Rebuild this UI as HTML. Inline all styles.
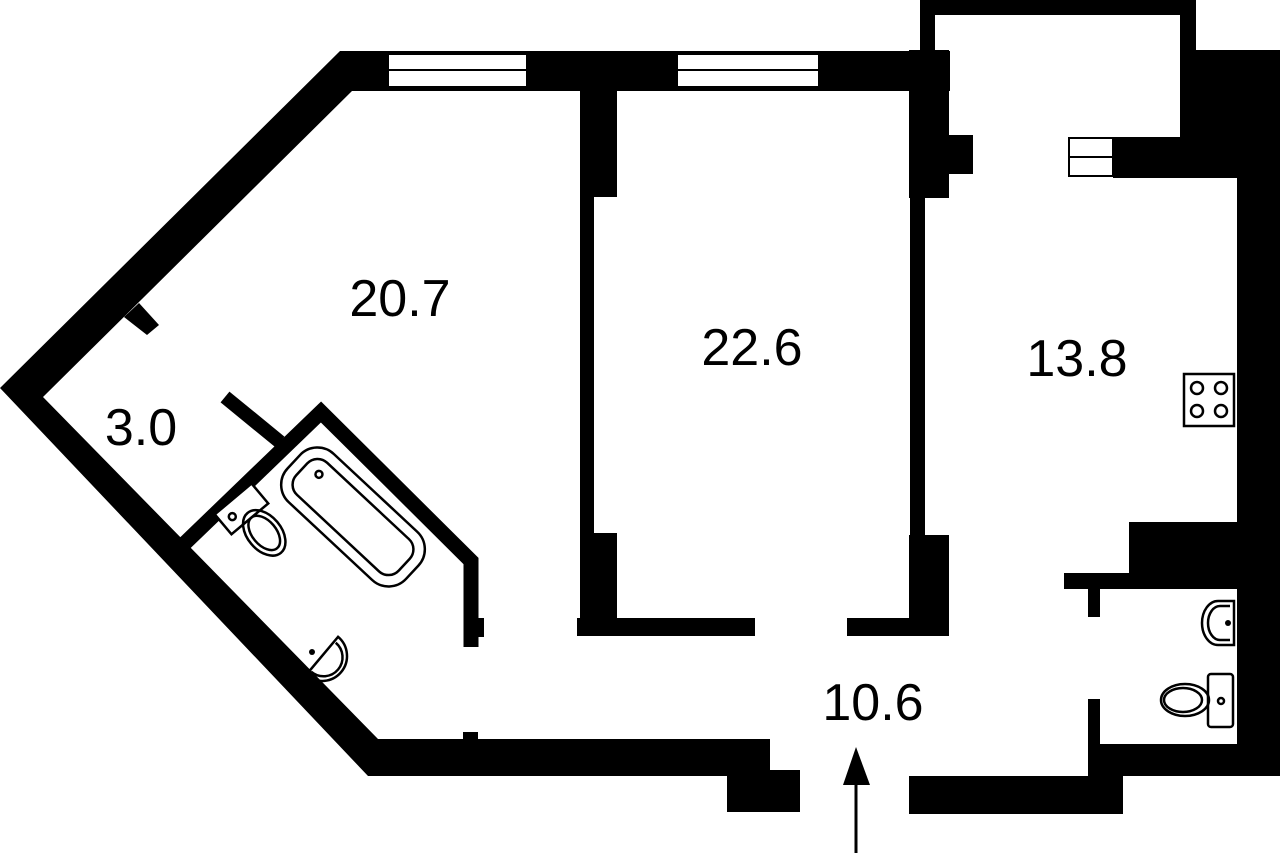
<!DOCTYPE html>
<html><head><meta charset="utf-8"><style>
html,body{margin:0;padding:0;background:#fff;}
svg{display:block;}
text{font-family:"Liberation Sans",sans-serif;font-size:52px;fill:#000;}
</style></head><body>
<svg width="1280" height="853" viewBox="0 0 1280 853" xmlns="http://www.w3.org/2000/svg">
<g fill="#000">
<polygon points="340,51 950,51 950,91 352,91 43,397 378,739 770,739 770,776 368,776 0,388"/>
<rect x="727" y="770" width="73" height="42"/>
<polygon points="139,303 159,325 147,335 124,317"/>
<rect x="580" y="51" width="37" height="146"/>
<rect x="580" y="190" width="14" height="350"/>
<rect x="580" y="533" width="37" height="103"/>
<rect x="577" y="618" width="178" height="18"/>
<rect x="909" y="50" width="40" height="148"/>
<rect x="945" y="135" width="28" height="39"/>
<rect x="910" y="190" width="15" height="350"/>
<rect x="909" y="535" width="40" height="101"/>
<rect x="847" y="618" width="102" height="18"/>
<rect x="920" y="0" width="276" height="15"/>
<rect x="920" y="0" width="15" height="55"/>
<rect x="1180" y="0" width="16" height="140"/>
<rect x="1180" y="50" width="100" height="128"/>
<rect x="1113" y="137" width="130" height="41"/>
<rect x="1237" y="50" width="43" height="726"/>
<rect x="1129" y="522" width="115" height="65"/>
<rect x="1064" y="573" width="180" height="16"/>
<rect x="1088" y="580" width="12" height="37"/>
<rect x="1088" y="699" width="12" height="50"/>
<rect x="1088" y="744" width="192" height="32"/>
<rect x="1088" y="744" width="35" height="70"/>
<rect x="909" y="776" width="214" height="38"/>
<line x1="225" y1="397" x2="280" y2="442" stroke="#000" stroke-width="14"/>
<rect x="463" y="732" width="15" height="8"/>
<rect x="476" y="618" width="8" height="19"/>
</g>
<polyline points="184,544 321,412 471,561 471,647" fill="none" stroke="#000" stroke-width="15" stroke-linejoin="miter"/>
<g fill="#fff" stroke="#000" stroke-width="2">
<rect x="388" y="54" width="139" height="33"/>
<line x1="388" y1="70" x2="527" y2="70"/>
<rect x="677" y="54" width="142" height="33"/>
<line x1="677" y1="70" x2="819" y2="70"/>
<rect x="1069" y="138" width="44" height="38"/>
<line x1="1069" y1="157" x2="1113" y2="157"/>
</g>
<g fill="none" stroke="#000" stroke-width="2.5">
<g transform="translate(353,517) rotate(43)">
<rect x="-81" y="-33" width="162" height="66" rx="24"/>
<rect x="-70" y="-22" width="140" height="44" rx="14"/>
<circle cx="-54" cy="-8" r="3.5"/>
</g>
<g transform="translate(255,525) rotate(-40)">
<rect x="-24" y="-34" width="48" height="26" fill="#fff"/>
<circle cx="-12" cy="-21" r="3.5"/>
<ellipse cx="2" cy="12" rx="17" ry="26"/>
<ellipse cx="2" cy="12" rx="12" ry="20"/>
</g>
<g transform="translate(322,656) rotate(-50)">
<path d="M -25,0 A 25 25 0 0 0 25,0 Z"/>
<path d="M -19,2 A 19 19 0 0 0 19,2"/>
</g>
<rect x="1184" y="374" width="50" height="52"/>
<circle cx="1197" cy="388" r="6"/><circle cx="1221" cy="388" r="6"/>
<circle cx="1197" cy="411" r="6"/><circle cx="1221" cy="411" r="6"/>
<path d="M1234,601 L1218,601 A 16 22 0 0 0 1218,645 L1234,645 Z"/>
<path d="M1230,606 L1220,606 A 12 17 0 0 0 1220,640 L1230,640"/>
<rect x="1208" y="674" width="25" height="53" rx="3"/>
<circle cx="1221" cy="701" r="3"/>
<ellipse cx="1185" cy="700" rx="24" ry="16"/>
<ellipse cx="1183" cy="700" rx="19" ry="12"/>
</g>
<circle cx="1228" cy="623" r="3" fill="#000"/>
<circle cx="312" cy="652" r="3" fill="#000"/>
<line x1="856" y1="853" x2="856" y2="780" stroke="#000" stroke-width="3"/>
<polygon points="856,747 843,785 870,785" fill="#000"/>
<text x="400" y="316" text-anchor="middle">20.7</text>
<text x="752" y="365" text-anchor="middle">22.6</text>
<text x="1077" y="376" text-anchor="middle">13.8</text>
<text x="141" y="445" text-anchor="middle">3.0</text>
<text x="873" y="720" text-anchor="middle">10.6</text>
</svg>
</body></html>
